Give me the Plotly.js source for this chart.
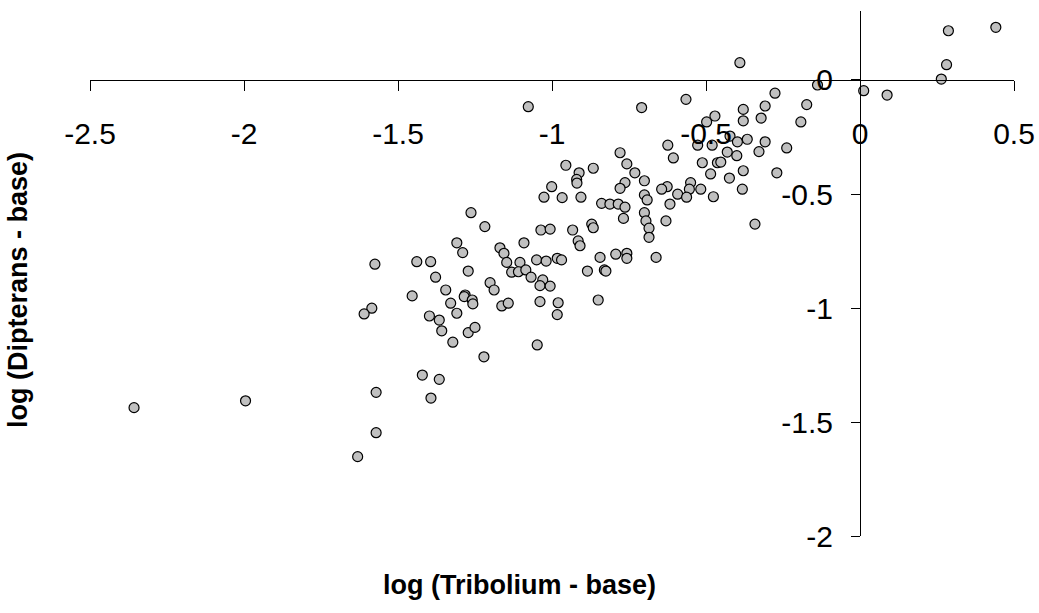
<!DOCTYPE html>
<html>
<head>
<meta charset="utf-8">
<script src="https://cdn.plot.ly/plotly-3.0.1.min.js"></script>
<style>html,body{margin:0;padding:0;background:#fff;}#chart{width:1039px;height:613px;}</style>
</head>
<body>
<div id="chart"></div>
<script>
// log (Tribolium - base)
const xValues = [
 0.287, 0.441, 0.281, 0.264, 0.012, 0.088, -0.138,
 -0.276, -0.308, -0.321, -0.173, -0.192, -0.308, -0.328, -0.238, -0.270,
 -0.390, -0.565, -0.709, -0.379, -0.379, -0.471, -0.498, -0.422, -0.398, -0.366,
 -0.624, -0.527, -0.480, -0.606, -0.431, -0.400, -0.512, -0.463, -0.452, -0.379,
 -0.485, -0.424, -0.382, -0.731, -0.700, -0.550, -0.626, -0.644, -0.554, -0.517,
 -0.592, -0.563, -0.476, -0.700, -0.691, -0.617,
 -1.077, -0.779, -0.757, -0.955, -0.912, -0.866, -0.920, -0.919, -0.763, -0.779,
 -1.001, -1.026, -0.967, -0.906, -0.839, -0.812, -0.785, -0.763,
 -0.768, -1.036, -1.006, -0.933, -0.871, -0.866, -0.915, -0.909, -1.091, -1.169,
 -1.156, -1.147, -1.104, -1.050, -1.019, -0.983, -0.969, -0.844, -0.793, -0.757,
 -0.757, -1.131, -1.109, -1.085, -1.068, -1.030, -1.039, -1.006, -0.885, -0.830,
 -0.825, -1.163, -1.142, -1.039, -0.980, -0.983, -0.850,
 -0.700, -0.695, -0.685, -0.685, -0.630, -0.341, -0.662,
 -1.263, -1.218, -1.309, -1.290, -1.575, -1.439, -1.394, -1.378, -1.272, -1.201,
 -1.188, -1.345, -1.454, -1.282, -1.285, -1.259, -1.257, -1.329, -1.309, -1.585,
 -1.398, -1.366, -1.358, -1.272, -1.250, -1.610,
 -1.322, -1.048, -1.221, -1.421, -1.366, -1.393, -1.571, -1.571, -1.631,
 -2.357, -1.995
];
// log (Dipterans - base)
const yValues = [
 0.216, 0.231, 0.067, 0.004, -0.047, -0.066, -0.022,
 -0.058, -0.114, -0.167, -0.108, -0.184, -0.271, -0.314, -0.298, -0.407,
 0.076, -0.085, -0.121, -0.129, -0.179, -0.158, -0.184, -0.246, -0.271, -0.260,
 -0.286, -0.286, -0.286, -0.342, -0.316, -0.332, -0.363, -0.363, -0.360, -0.398,
 -0.412, -0.430, -0.479, -0.407, -0.442, -0.450, -0.468, -0.479, -0.479, -0.479,
 -0.501, -0.514, -0.512, -0.504, -0.526, -0.544,
 -0.117, -0.319, -0.368, -0.374, -0.407, -0.387, -0.436, -0.452, -0.450, -0.475,
 -0.468, -0.514, -0.516, -0.514, -0.541, -0.544, -0.544, -0.558,
 -0.607, -0.658, -0.654, -0.658, -0.632, -0.648, -0.706, -0.727, -0.714, -0.736,
 -0.760, -0.800, -0.800, -0.789, -0.794, -0.782, -0.789, -0.778, -0.764, -0.760,
 -0.782, -0.843, -0.841, -0.833, -0.865, -0.877, -0.902, -0.904, -0.838, -0.833,
 -0.838, -0.991, -0.979, -0.972, -0.977, -1.029, -0.965,
 -0.582, -0.618, -0.650, -0.690, -0.618, -0.632, -0.778,
 -0.582, -0.643, -0.714, -0.757, -0.808, -0.797, -0.797, -0.865, -0.838, -0.889,
 -0.921, -0.921, -0.947, -0.943, -0.950, -0.965, -0.982, -0.979, -1.023, -1.001,
 -1.035, -1.053, -1.100, -1.108, -1.085, -1.026,
 -1.150, -1.162, -1.214, -1.294, -1.313, -1.395, -1.370, -1.547, -1.652,
 -1.437, -1.407
];
const xTickValues = [-2.5, -2, -1.5, -1, -0.5, 0, 0.5];
const xTickLabels = ["-2.5", "-2", "-1.5", "-1", "-0.5", "0", "0.5"];
const yTickValues = [-2, -1.5, -1, -0.5, 0];
const yTickLabels = ["-2", "-1.5", "-1", "-0.5", "0"];
const xTitle = "log (Tribolium - base)";
const yTitle = "log (Dipterans - base)";

const xRange = [-2.5, 0.5];
const yRange = [-2, 0.3026];
const fontFam = "Liberation Sans, Arial, sans-serif";

const trace = {
  type: "scatter", mode: "markers",
  x: xValues, y: yValues,
  marker: {size: 10, color: "#c0c0c0", line: {color: "#000", width: 1.2}},
  hoverinfo: "x+y"
};

const layout = {
  width: 1039, height: 613,
  margin: {l: 90, r: 25, t: 11, b: 77, pad: 0},
  paper_bgcolor: "#fff", plot_bgcolor: "#fff",
  showlegend: false,
  xaxis: {
    range: xRange, anchor: "free",
    position: (0 - yRange[0]) / (yRange[1] - yRange[0]),
    showline: true, linecolor: "#000", linewidth: 1,
    ticks: "outside", ticklen: 10, tickcolor: "#000", tickwidth: 1,
    tickvals: xTickValues, ticktext: xTickLabels,
    showgrid: false, zeroline: false,
    tickfont: {family: fontFam, size: 30, color: "#000"},
    ticklabelstandoff: 17
  },
  yaxis: {
    range: yRange, anchor: "free",
    position: (0 - xRange[0]) / (xRange[1] - xRange[0]),
    showline: true, linecolor: "#000", linewidth: 1,
    ticks: "outside", ticklen: 9, tickcolor: "#000", tickwidth: 1,
    tickvals: yTickValues, ticktext: yTickLabels,
    showgrid: false, zeroline: false,
    tickfont: {family: fontFam, size: 30, color: "#000"},
    ticklabelstandoff: 12
  },
  annotations: [
    {text: "<b>" + xTitle + "</b>", xref: "paper", yref: "paper",
     x: (519 - 90) / 924, y: (536 - 585) / 525, xanchor: "center", yanchor: "middle",
     showarrow: false, font: {family: fontFam, size: 27, color: "#000"}},
    {text: "<b>" + yTitle + "</b>", xref: "paper", yref: "paper",
     x: (18 - 90) / 924, y: (536 - 290) / 525, xanchor: "center", yanchor: "middle",
     textangle: -90, showarrow: false, font: {family: fontFam, size: 27, color: "#000"}}
  ]
};

Plotly.newPlot("chart", [trace], layout, {displayModeBar: false, staticPlot: true});
</script>
</body>
</html>
